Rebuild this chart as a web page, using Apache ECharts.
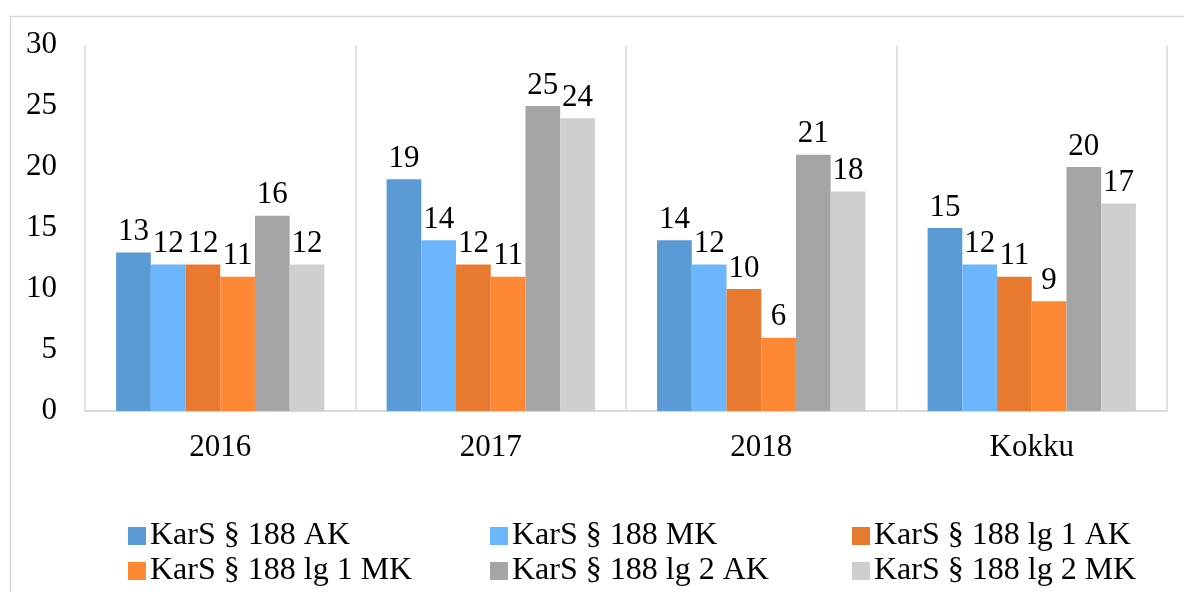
<!DOCTYPE html>
<html>
<head>
<meta charset="utf-8">
<script src="https://cdn.jsdelivr.net/npm/echarts@6/dist/echarts.min.js"></script>
<style>
  html, body { margin: 0; padding: 0; background: #fff; }
  #chart { width: 1184px; height: 592px; }
</style>
</head>
<body>
<div id="chart"></div>
<script>
// categories and series values
const categories = ['2016', '2017', '2018', 'Kokku'];
const seriesNames = [
    'KarS § 188 AK',
    'KarS § 188 MK',
    'KarS § 188 lg 1 AK',
    'KarS § 188 lg 1 MK',
    'KarS § 188 lg 2 AK',
    'KarS § 188 lg 2 MK'
];
const ak188 = [13, 19, 14, 15];
const mk188 = [12, 14, 12, 12];
const lg1ak = [12, 12, 10, 11];
const lg1mk = [11, 11, 6, 9];
const lg2ak = [16, 25, 21, 20];
const lg2mk = [12, 24, 18, 17];
const yTicks = [0, 5, 10, 15, 20, 25, 30];

const colors = ['#5B9BD5', '#6BB6FC', '#E87A30', '#FF8834', '#A5A5A5', '#D0CFD0'];
const values = [ak188, mk188, lg1ak, lg1mk, lg2ak, lg2mk];
const font = '"Liberation Serif", "DejaVu Serif", serif';

let chart = echarts.init(document.getElementById('chart'));

// legend: 3 columns x 2 rows, one legend per item so positions are fixed
const legendCols = [128, 490, 852];
const legendRows = [520, 555];
let legends = seriesNames.map((name, i) => ({
    data: [name],
    left: legendCols[i % 3],
    top: legendRows[Math.floor(i / 3)],
    padding: 0,
    itemWidth: 18,
    itemHeight: 18,
    itemGap: 0,
    icon: 'rect',
    selectedMode: false,
    textStyle: { fontFamily: font, fontSize: 32, color: '#000', padding: [0, 0, 0, -1] }
}));

chart.setOption({
    animation: false,
    color: colors,
    textStyle: { fontFamily: font },
    graphic: [{
        type: 'rect',
        left: 8, top: 14,
        shape: { width: 1200, height: 600 },
        style: { fill: 'none', stroke: '#d9d9d9', lineWidth: 1.5 }
    }],
    legend: legends,
    grid: { left: 85, right: 17, top: 45, bottom: 181 },
    xAxis: {
        type: 'category',
        data: categories,
        axisLine: { lineStyle: { color: '#d9d9d9', width: 2 } },
        axisTick: { show: false },
        splitLine: { show: true, lineStyle: { color: '#d9d9d9', width: 1.5 } },
        axisLabel: { fontFamily: font, fontSize: 31, color: '#000', margin: 21 }
    },
    yAxis: {
        type: 'value',
        min: yTicks[0],
        max: yTicks[yTicks.length - 1],
        interval: 5,
        axisLine: { show: false },
        axisTick: { show: false },
        splitLine: { show: false },
        axisLabel: { fontFamily: font, fontSize: 31, color: '#000', margin: 28 }
    },
    series: seriesNames.map((name, i) => ({
        name: name,
        type: 'bar',
        data: values[i],
        barGap: '0%',
        barCategoryGap: '23%',
        label: {
            show: true,
            position: 'top',
            distance: 5,
            fontFamily: font,
            fontSize: 31,
            color: '#000'
        }
    }))
});
</script>
</body>
</html>
